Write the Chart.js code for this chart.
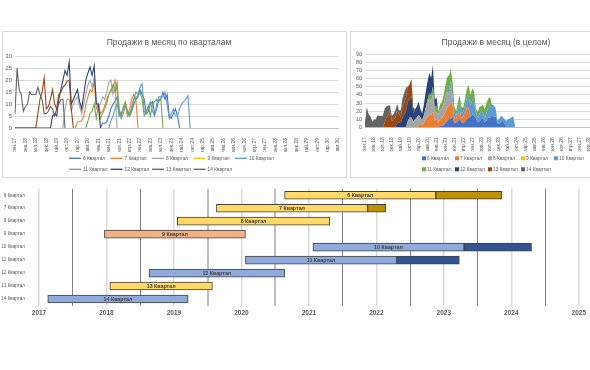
<!DOCTYPE html>
<html><head><meta charset="utf-8">
<script src="https://cdn.jsdelivr.net/npm/chart.js@4.4.0/dist/chart.umd.min.js"></script>
<style>
html,body{margin:0;padding:0;background:#fff;overflow:hidden;width:590px;height:370px;}
.frame{position:absolute;border:1px solid #d9d9d9;box-sizing:border-box;}
canvas{position:absolute;}
</style></head><body>
<div class="frame" style="left:2px;top:31px;width:345px;height:147px;"></div>
<div class="frame" style="left:350px;top:31px;width:330px;height:147px;"></div>
<canvas id="c1" width="346" height="148" style="left:0;top:30px;width:346px;height:148px;"></canvas>
<canvas id="c2" width="308" height="148" style="left:350px;top:30px;width:308px;height:148px;"></canvas>
<canvas id="c3" width="590" height="150" style="left:0;top:180px;width:590px;height:150px;"></canvas>
<script>
// ---------- DATA ----------
const quarters = ['6 Квартал','7 Квартал','8 Квартал','9 Квартал','10 Квартал','11 Квартал','12 Квартал','13 Квартал','14 Квартал'];
const colors = ['#4472C4','#ED7D31','#A5A5A5','#FFC000','#5B9BD5','#70AD47','#264478','#9E480E','#636363'];
const monthNames = ['янв','фев','мар','апр','май','июн','июл','авг','сен','окт','ноя','дек'];
const firstMonth = 8, firstYear = 17, monthCount = 156; // сен.17 .. авг.30

// monthly sales per quarter: start month index (0 = сен.17) and values
const q6Start = 41;  const q6Values  = [0,2,2,2.5,5,8,10,11,13,5, 6,8,10,6,5,7,10,12,13,16, 14,12,6,7,10,11,6,8,12,12, 15,12,14,5,4,6,8,5,0];
const q7Start = 29;  const q7Values  = [0,2.5,2.7,3,5,10,13,16,15,19.5, 8,10,6,7,9,12,14,16,17,20, 15,7,5,8,10,5,8,12,14,12, 0];
const q8Start = 23;  const q8Values  = [0,8,12,12,7,10,12,13,9,6, 10,14,18,20,17,21,12,8,10,13, 12,15,19,20,14,18,0];
const q9Start = 0;   const q9Values  = [];
const q10Start = 45; const q10Values = [0,3,5,8,10,6,4,6,9,7, 6,8,12,15,14,17,18.5,7,6,9, 11,7,5,10,13,13,13,15,10,4, 6,8,5,5,8,10,11,12,13.5,0];
const q11Start = 34; const q11Values = [0,3,6,7,10,4,9,4,6,8, 10,14,15,18,15,19,8,5,9,11, 7,5,9,12,13,13.5,15,12,5,7, 9,5,10,11,12,11,12,0];
const q12Start = 0;  const q12Values = [0,0,0,0,0,0,0,0,0,0, 0,0,0,0,0,0,0,0,5,6, 5,12,16,20,24,22,27.5,10,12,14, 16,11,8,14,20,23,25.5,22,26,10, 10,0];
const q13Start = 0;  const q13Values = [0,0,0,0,0,0,0,0,0,0, 0,6,12,15,21,8,9,12,16,10, 8,14,15,17,18,19.5,20,8,0];
const q14Start = 0;  const q14Values = [6,25,16,14,7,9,10,15,14,14, 14,17,14,12,6,6,7,9,8,5, 8,10,12,12,0];

// Gantt (years)
const ganttStart = [2020.64, 2019.63, 2019.05, 2017.97, 2021.06, 2020.06, 2018.63, 2018.05, 2017.13];
const ganttSplit = [2022.88, 2021.87, 2021.31, 2020.06, 2023.30, 2022.30, 2020.64, 2019.57, 2019.21];
const ganttEnd   = [2023.86, 2022.14, null,    null,    2024.30, 2023.23, null,    null,    null];
const ganttLight = ['#FFD966','#FFD966','#FFD966','#F4B183','#8FAADC','#8FAADC','#8FAADC','#FFD966','#8FAADC'];
const ganttDark  = ['#BF9000','#BF9000',null,null,'#2F5597','#2F5597',null,null,null];
const yearAxisMin = 2017, yearAxisMax = 2025;

// ---------- BUILD ----------
const months = [];
for (let k = 0; k < monthCount; k++) {
  months.push(monthNames[(firstMonth + k) % 12] + '.' + (firstYear + Math.floor((firstMonth + k) / 12)));
}
const starts = [q6Start,q7Start,q8Start,q9Start,q10Start,q11Start,q12Start,q13Start,q14Start];
const vals = [q6Values,q7Values,q8Values,q9Values,q10Values,q11Values,q12Values,q13Values,q14Values];
const lineData = vals.map((v, i) => {
  const arr = new Array(monthCount).fill(null);
  v.forEach((x, j) => { arr[starts[i] + j] = x; });
  return arr;
});
const areaData = lineData.map(a => a.map(x => x == null ? 0 : x));

const FONT = '"Liberation Sans", Arial, sans-serif';
Chart.defaults.font.family = FONT;
Chart.defaults.color = '#595959';

function legendPlugin(x0, step, y0, gap, kind) {
  return {
    id: 'customLegend',
    afterDraw(chart) {
      const ctx = chart.ctx; ctx.save();
      ctx.font = '4.8px ' + FONT; ctx.textBaseline = 'middle'; ctx.textAlign = 'left';
      chart.data.datasets.forEach((ds, i) => {
        const row = i < 5 ? 0 : 1, col = i < 5 ? i : i - 5;
        const x = x0 + col * step, y = y0 + row * gap;
        if (kind === 'line') {
          ctx.strokeStyle = colors[i]; ctx.lineWidth = 1.3;
          ctx.beginPath(); ctx.moveTo(x, y); ctx.lineTo(x + 12, y); ctx.stroke();
          ctx.fillStyle = '#595959'; ctx.fillText(ds.label, x + 14, y);
        } else {
          ctx.fillStyle = colors[i]; ctx.fillRect(x, y - 2, 4, 4);
          ctx.fillStyle = '#595959'; ctx.fillText(ds.label, x + 5, y);
        }
      });
      ctx.restore();
    }
  };
}

function monthAxis() {
  return {
    type: 'category', offset: false,
    grid: {display: false},
    border: {display: true, color: '#bfbfbf', width: 1},
    ticks: {autoSkip: false, maxRotation: 90, minRotation: 90, padding: 2,
      font: {size: 5}, color: '#595959',
      callback: function(v, i) { return i % 5 === 0 ? this.getLabelForValue(v) : ''; }},
    afterFit: s => { s.height = 24; }
  };
}

// Chart 1: lines
new Chart(document.getElementById('c1'), {
  type: 'line',
  data: {labels: months, datasets: quarters.map((q, i) => ({
    label: q, data: lineData[i], borderColor: colors[i], backgroundColor: colors[i],
    borderWidth: 1.1, pointRadius: 0, tension: 0, fill: false, spanGaps: false, order: 9 - i
  }))},
  options: {
    responsive: false, animation: false,
    layout: {padding: {left: 0, right: 8, top: 0, bottom: 26}},
    plugins: {
      legend: {display: false}, tooltip: {enabled: false},
      title: {display: true, text: 'Продажи в месяц по кварталам', color: '#595959',
        font: {size: 8.5, weight: 'normal'}, padding: {top: 8, bottom: 8}}
    },
    scales: {
      x: monthAxis(),
      y: {min: 0, max: 30, ticks: {stepSize: 5, autoSkip: false, font: {size: 6}, color: '#595959', padding: 3},
        grid: {color: '#d9d9d9', drawTicks: false}, border: {display: false},
        afterFit: s => { s.width = 15; }}
    }
  },
  plugins: [legendPlugin(69, 41.5, 128.3, 11, 'line')]
});

// Chart 2: stacked area
new Chart(document.getElementById('c2'), {
  type: 'line',
  data: {labels: months, datasets: quarters.map((q, i) => ({
    label: q, data: areaData[i], borderColor: colors[i], backgroundColor: colors[i],
    borderWidth: 0, pointRadius: 0, tension: 0, fill: i === 0 ? 'origin' : '-1'
  }))},
  options: {
    responsive: false, animation: false,
    layout: {padding: {left: 0, right: 16, top: 0, bottom: 26.7}},
    plugins: {
      legend: {display: false}, tooltip: {enabled: false},
      title: {display: true, text: 'Продажи в месяц (в целом)', color: '#595959',
        font: {size: 8.5, weight: 'normal'}, padding: {top: 8, bottom: 6.2}}
    },
    scales: {
      x: monthAxis(),
      y: {stacked: true, min: 0, max: 90, ticks: {stepSize: 10, autoSkip: false, font: {size: 5.5}, color: '#595959', padding: 3},
        grid: {color: '#d9d9d9', drawTicks: false}, border: {display: false},
        afterFit: s => { s.width = 15; }}
    }
  },
  plugins: [legendPlugin(72, 33, 128.3, 11, 'square')]
});

// Chart 3: Gantt
const barLabels = {
  id: 'barLabels',
  afterDatasetsDraw(chart) {
    const meta = chart.getDatasetMeta(0);
    const ctx = chart.ctx; ctx.save();
    ctx.font = 'bold 5.3px ' + FONT; ctx.fillStyle = '#404040';
    ctx.textAlign = 'center'; ctx.textBaseline = 'middle';
    meta.data.forEach((bar, i) => {
      const p = bar.getProps(['x', 'base', 'y'], true);
      ctx.fillText(quarters[i], (p.x + p.base) / 2, p.y + 0.3);
    });
    ctx.restore();
  }
};
new Chart(document.getElementById('c3'), {
  type: 'bar',
  data: {labels: quarters, datasets: [
    {data: ganttStart.map((s, i) => [s, ganttSplit[i]]), backgroundColor: ganttLight,
      borderColor: '#404040', borderWidth: 1, borderSkipped: false, barThickness: 8, grouped: false},
    {data: ganttSplit.map((s, i) => ganttEnd[i] == null ? null : [s, ganttEnd[i]]), backgroundColor: ganttDark.map(c => c || 'rgba(0,0,0,0)'),
      borderColor: '#404040', borderWidth: 1, borderSkipped: false, barThickness: 8, grouped: false}
  ]},
  options: {
    indexAxis: 'y', responsive: false, animation: false,
    layout: {padding: {left: 0, right: 11, top: 4, bottom: 0}},
    plugins: {legend: {display: false}, tooltip: {enabled: false}, title: {display: false}},
    scales: {
      x: {type: 'linear', min: yearAxisMin, max: yearAxisMax,
        ticks: {stepSize: 0.5, autoSkip: false, maxRotation: 0, padding: 4,
          font: {size: 6.5, weight: 'bold'}, color: '#595959',
          callback: v => Number.isInteger(v) ? String(v) : ''},
        grid: {drawTicks: false,
          color: c => { const v = c.tick.value; if (Number.isInteger(v)) return '#d9d9d9'; if (v === 2019.5 || v === 2020.5) return '#bfbfbf'; return '#7f7f7f'; },
          lineWidth: c => { const v = c.tick.value; if (Number.isInteger(v)) return 1.5; if (v === 2019.5 || v === 2020.5) return 2; return 1; }},
        border: {display: false},
        afterFit: s => { s.height = 24.5; }},
      y: {type: 'category', grid: {display: false}, border: {display: false},
        ticks: {font: {size: 4.6}, color: '#595959', padding: 6},
        afterFit: s => { s.width = 39; }}
    }
  },
  plugins: [barLabels]
});
</script>
</body></html>
